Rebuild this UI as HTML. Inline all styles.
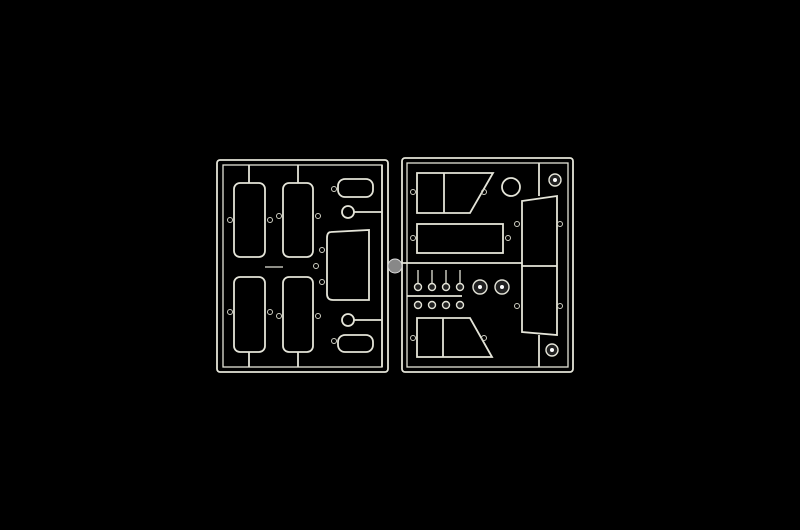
<!DOCTYPE html>
<html><head><meta charset="utf-8"><style>
html,body{margin:0;padding:0;background:#000;width:800px;height:530px;overflow:hidden}
</style></head><body>
<svg width="800" height="530" viewBox="0 0 800 530" xmlns="http://www.w3.org/2000/svg">
<rect width="800" height="530" fill="#000"/>
<g fill="none" stroke="#e4e4d8" stroke-width="1.8">
<rect x="217" y="160" width="171" height="212" rx="3"/>
<rect x="223" y="165" width="159" height="202" stroke-width="1.3"/>
<rect x="402" y="158" width="171" height="214" rx="3"/>
<rect x="407" y="163" width="161" height="204" stroke-width="1.3"/>
<line x1="388" y1="263" x2="407" y2="263"/>
<rect x="234" y="183" width="31" height="74" rx="6"/>
<rect x="234" y="277" width="31" height="75" rx="6"/>
<rect x="283" y="183" width="30" height="74" rx="6"/>
<rect x="283" y="277" width="30" height="75" rx="6"/>
<line x1="265" y1="267" x2="283" y2="267" stroke-width="1.2"/>
<line x1="249" y1="165" x2="249" y2="183"/><line x1="298" y1="165" x2="298" y2="183"/>
<line x1="249" y1="352" x2="249" y2="367"/><line x1="298" y1="352" x2="298" y2="367"/>
<rect x="338" y="179" width="35" height="18" rx="7"/>
<circle cx="348" cy="212" r="6"/>
<line x1="354" y1="212" x2="382" y2="212"/>
<path d="M331 232 L369 230 L369 300 L333 300 Q327 300 327 294 L327 238 Q327 232 331 232Z"/>
<circle cx="348" cy="320" r="6"/>
<line x1="354" y1="320" x2="382" y2="320"/>
<rect x="338" y="335" width="35" height="17" rx="7"/>
<line x1="382" y1="165" x2="382" y2="367"/>
<path d="M417 173 L493 173 L470 213 L417 213Z"/>
<line x1="444" y1="173" x2="444" y2="213"/>
<rect x="417" y="224" width="86" height="29"/>
<line x1="407" y1="263" x2="522" y2="263"/>
<circle cx="511" cy="187" r="9"/>
<path d="M522 201 L557 196 L557 335 L522 332Z"/>
<line x1="522" y1="266" x2="557" y2="266"/>
<line x1="407" y1="296" x2="462" y2="296"/>
<path d="M417 318 L470 318 L492 357 L417 357Z"/>
<line x1="443" y1="318" x2="443" y2="357"/>
<line x1="539" y1="163" x2="539" y2="196"/>
<line x1="539" y1="335" x2="539" y2="367"/>
</g>
<g fill="none" stroke="#d0d0c4" stroke-width="1">
<circle cx="230" cy="220" r="2.5"/><circle cx="270" cy="220" r="2.5"/>
<circle cx="279" cy="216" r="2.5"/><circle cx="318" cy="216" r="2.5"/>
<circle cx="230" cy="312" r="2.5"/><circle cx="270" cy="312" r="2.5"/>
<circle cx="279" cy="316" r="2.5"/><circle cx="318" cy="316" r="2.5"/>
<circle cx="322" cy="250" r="2.5"/><circle cx="322" cy="282" r="2.5"/><circle cx="316" cy="266" r="2.5"/>
<circle cx="334" cy="189" r="2.5"/><circle cx="334" cy="341" r="2.5"/>
<circle cx="413" cy="192" r="2.5"/><circle cx="484" cy="192" r="2.5"/>
<circle cx="413" cy="238" r="2.5"/><circle cx="508" cy="238" r="2.5"/>
<circle cx="517" cy="224" r="2.5"/><circle cx="560" cy="224" r="2.5"/>
<circle cx="517" cy="306" r="2.5"/><circle cx="560" cy="306" r="2.5"/>
<circle cx="413" cy="338" r="2.5"/><circle cx="484" cy="338" r="2.5"/>
</g>
<g fill="#222" stroke="#e4e4d8" stroke-width="1.4">
<circle cx="418" cy="287" r="3.5"/><circle cx="432" cy="287" r="3.5"/><circle cx="446" cy="287" r="3.5"/><circle cx="460" cy="287" r="3.5"/>
<circle cx="418" cy="305" r="3.5"/><circle cx="432" cy="305" r="3.5"/><circle cx="446" cy="305" r="3.5"/><circle cx="460" cy="305" r="3.5"/>
<circle cx="480" cy="287" r="7"/><circle cx="502" cy="287" r="7"/>
<circle cx="555" cy="180" r="6"/><circle cx="552" cy="350" r="6"/>
</g>
<g stroke="#e4e4d8" stroke-width="1.3">
<line x1="418" y1="270" x2="418" y2="284"/><line x1="432" y1="270" x2="432" y2="284"/>
<line x1="446" y1="270" x2="446" y2="284"/><line x1="460" y1="270" x2="460" y2="284"/>
</g>
<circle cx="395" cy="266" r="7" fill="#888" stroke="#ddd" stroke-width="1"/>
<circle cx="480" cy="287" r="2" fill="#fff"/><circle cx="502" cy="287" r="2" fill="#fff"/>
<circle cx="555" cy="180" r="2" fill="#fff"/><circle cx="552" cy="350" r="2" fill="#fff"/>
</svg>
</body></html>
